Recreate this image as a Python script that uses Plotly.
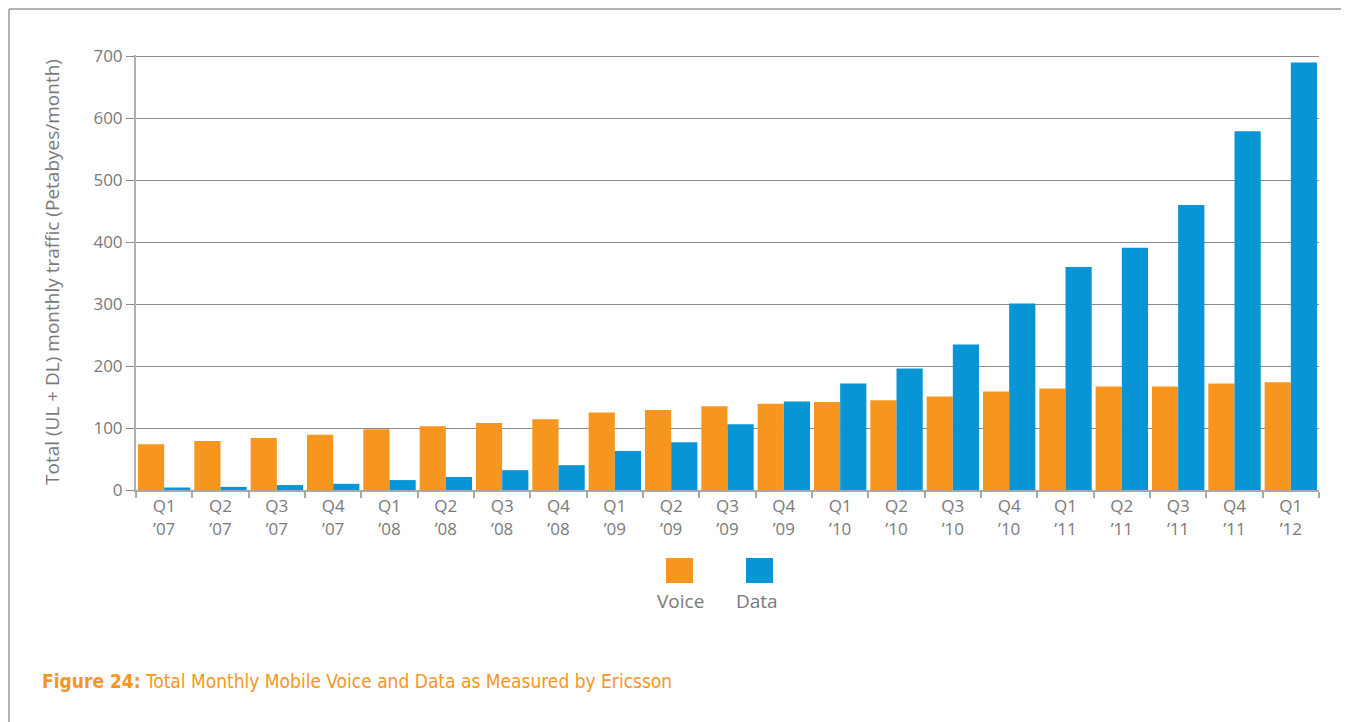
import plotly.graph_objects as go

# quarters (two-line tick labels)
quarters = ["Q1", "Q2", "Q3", "Q4", "Q1", "Q2", "Q3", "Q4", "Q1", "Q2", "Q3",
            "Q4", "Q1", "Q2", "Q3", "Q4", "Q1", "Q2", "Q3", "Q4", "Q1"]
years = ["’07", "’07", "’07", "’07", "’08", "’08", "’08", "’08", "’09", "’09", "’09",
         "’09", "’10", "’10", "’10", "’10", "’11", "’11", "’11", "’11", "’12"]
categories = [q + "<br>" + y for q, y in zip(quarters, years)]

# Petabytes / month
voice = [74, 79, 84, 89, 98, 103, 108, 114, 125, 129, 135,
         139, 142, 145, 151, 159, 164, 167, 167, 172, 174]
data = [4, 5, 8, 10, 16, 21, 32, 40, 63, 77, 106,
        143, 172, 196, 235, 301, 360, 391, 460, 579, 690]

ORANGE = "#F7961E"
BLUE = "#0795D6"
GREY_TXT = "#7a7a7a"

# the page body adds an 8px margin, so the figure starts at (8, 8) on screen
OFF = 8
W, H = 1349 - OFF, 722 - OFF
L, T = 136 - OFF, 55 - OFF
R = W - (1319 - OFF)
B = H - (490 - OFF)


def px(x):
    # screen pixel -> paper x
    return (x - OFF - L) / (W - L - R)


def py(y):
    # screen pixel -> paper y
    return (H - B - (y - OFF)) / (H - T - B)


fig = go.Figure()

fig.add_trace(go.Bar(x=categories, y=voice, name="Voice", marker_color=ORANGE,
                     marker_line_width=0))
fig.add_trace(go.Bar(x=categories, y=data, name="Data", marker_color=BLUE,
                     marker_line_width=0))

shapes = [
    # outer frame (left and top only)
    dict(type="line", xref="paper", yref="paper", x0=px(9), y0=py(730), x1=px(9), y1=py(9),
         line=dict(color="#9a9a9a", width=1.5)),
    dict(type="line", xref="paper", yref="paper", x0=px(9), y0=py(9), x1=px(1360), y1=py(9),
         line=dict(color="#9a9a9a", width=1.5)),
    # legend swatches
    dict(type="rect", xref="paper", yref="paper", x0=px(666), x1=px(693), y0=py(583), y1=py(558),
         fillcolor=ORANGE, line_width=0),
    dict(type="rect", xref="paper", yref="paper", x0=px(746), x1=px(773), y0=py(583), y1=py(558),
         fillcolor=BLUE, line_width=0),
]

annotations = [
    dict(text="Total (UL + DL) monthly traffic (Petabyes/month)", xref="paper", yref="paper",
         x=px(52), y=py(272), xanchor="center", yanchor="middle", textangle=-90,
         showarrow=False, font=dict(size=19, color=GREY_TXT)),
    dict(text="Voice", xref="paper", yref="paper", x=px(680), y=py(601),
         xanchor="center", yanchor="middle", showarrow=False,
         font=dict(size=19, color=GREY_TXT)),
    dict(text="Data", xref="paper", yref="paper", x=px(757), y=py(601),
         xanchor="center", yanchor="middle", showarrow=False,
         font=dict(size=19, color=GREY_TXT)),
    dict(text="<b>Figure 24:</b> Total Monthly Mobile Voice and Data as Measured by Ericsson",
         xref="paper", yref="paper", x=px(40), y=py(681), xanchor="left", yanchor="middle",
         showarrow=False,
         font=dict(size=19, color=ORANGE,
                   family="Liberation Sans Narrow, DejaVu Sans Condensed, sans-serif")),
]

fig.update_layout(
    width=W, height=H,
    margin=dict(l=L, r=R, t=T, b=B, autoexpand=False),
    paper_bgcolor="white", plot_bgcolor="white",
    barmode="group", bargap=0.07, bargroupgap=0,
    showlegend=False,
    font=dict(family="Open Sans, sans-serif", size=17, color=GREY_TXT),
    shapes=shapes,
    annotations=annotations,
)

fig.update_xaxes(
    type="category", showline=True, linecolor="#a8a8a8", linewidth=2,
    ticks="outside", tickson="boundaries", ticklen=6, tickcolor="#a8a8a8", tickwidth=1.5,
    showgrid=False, tickfont=dict(size=17, color=GREY_TXT),
)
fig.update_yaxes(
    range=[0, 702], tickvals=[0, 100, 200, 300, 400, 500, 600, 700],
    showline=True, linecolor="#b0b0b0", linewidth=2,
    ticks="outside", ticklen=8, tickcolor="#8a8a8a", tickwidth=1,
    showgrid=True, gridcolor="#8a8a8a", gridwidth=1, zeroline=False,
    tickfont=dict(size=17, color=GREY_TXT),
)

fig.write_html("out.html")
